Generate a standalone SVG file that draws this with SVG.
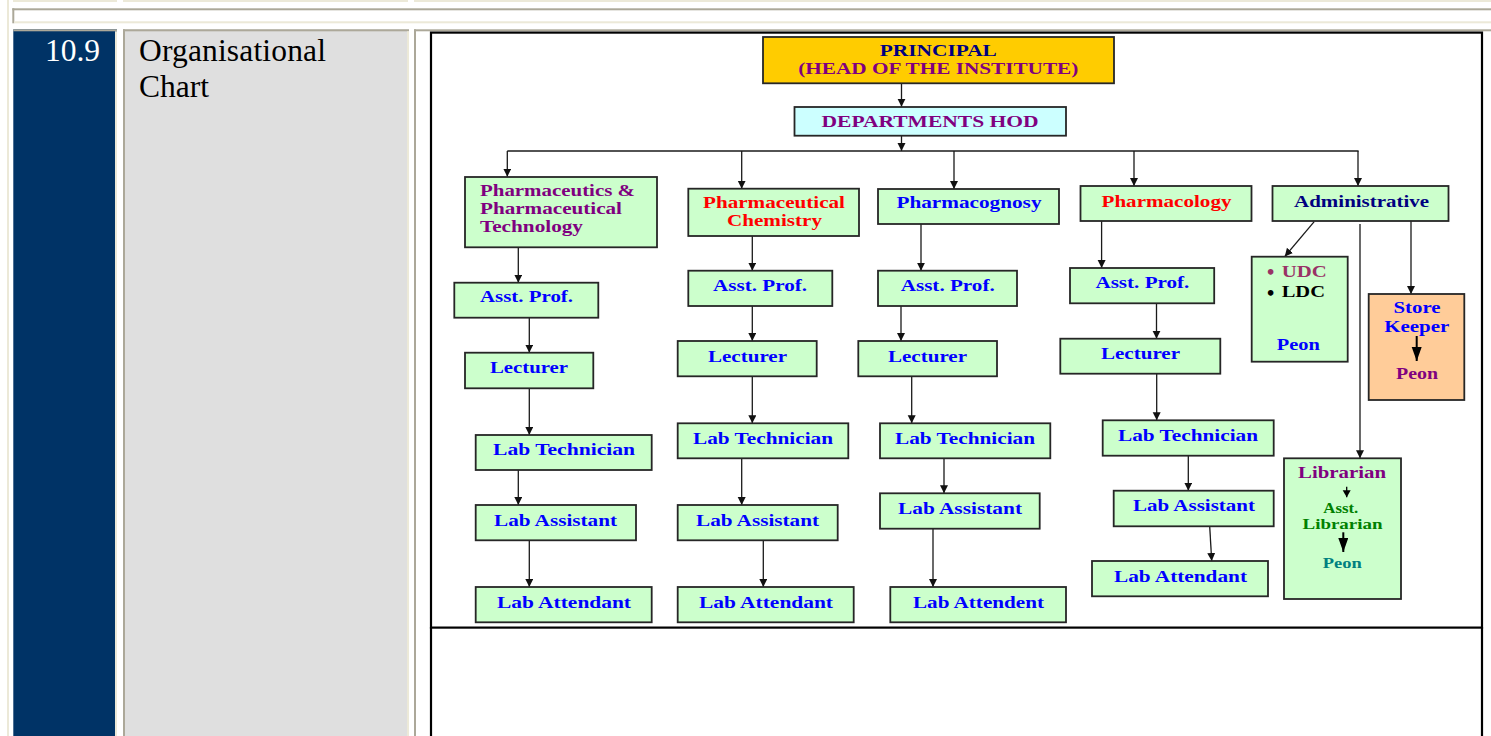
<svg xmlns="http://www.w3.org/2000/svg" width="1491" height="736" viewBox="0 0 1491 736">
<defs>
<marker id="ah" markerUnits="userSpaceOnUse" markerWidth="9" markerHeight="9" refX="8" refY="4" orient="auto"><path d="M0,0 L8,4 L0,8 z" fill="#111"/></marker>
<marker id="ahb" markerUnits="userSpaceOnUse" markerWidth="15" markerHeight="12" refX="14" refY="5" orient="auto"><path d="M0,0 L14,5 L0,10 z" fill="#000"/></marker>
<marker id="ahs" markerUnits="userSpaceOnUse" markerWidth="8" markerHeight="9" refX="7" refY="4" orient="auto"><path d="M0,0 L7,4 L0,8 z" fill="#000"/></marker>
</defs>
<style>
.bx{fill:#ccffcc;stroke:#262626;stroke-width:1.8}
.t{font-family:"Liberation Serif","Times New Roman",serif;font-weight:bold;font-size:17px;text-anchor:middle}
.l{text-anchor:start}
.bu{font-family:"DejaVu Sans",sans-serif;font-weight:bold;font-size:16px}
.b{fill:#0000ff}.p{fill:#800080}.r{fill:#ff0000}.n{fill:#000080}.g{fill:#008000}.tl{fill:#008080}.m{fill:#993366}.k{fill:#000}
.c{fill:none;stroke:#1a1a1a;stroke-width:1.3;marker-end:url(#ah)}
.hd{font-family:"Liberation Serif","Times New Roman",serif;font-size:31.5px}
</style>
<rect x="0" y="0" width="1491" height="736" fill="#fff"/>
<g id="page-frame">
<rect x="7" y="0" width="2" height="736" fill="#ece9d8"/>
<rect x="13" y="0" width="104" height="2" fill="#ece9d8"/>
<rect x="123" y="0" width="285" height="2" fill="#ece9d8"/>
<rect x="414" y="0" width="1077" height="2" fill="#ece9d8"/>
<rect x="12.3" y="8.3" width="1479" height="2" fill="#aca899"/>
<rect x="12.3" y="8.3" width="2" height="15" fill="#aca899"/>
<rect x="14.3" y="21.3" width="1477" height="2" fill="#ece9d8"/>
<rect x="13.3" y="29.3" width="103.7" height="706.7" fill="#003366"/>
<rect x="13.3" y="29.3" width="103.7" height="2" fill="#aca899"/>
<rect x="115" y="31.3" width="2" height="705" fill="#ece9d8"/>
<rect x="123" y="29.3" width="286" height="706.7" fill="#dfdfdf"/>
<rect x="123" y="29.3" width="286" height="2" fill="#aca899"/>
<rect x="123" y="29.3" width="2" height="706.7" fill="#aca899"/>
<rect x="407" y="31.3" width="2" height="705" fill="#ece9d8"/>
<rect x="414" y="29.3" width="1077" height="2" fill="#aca899"/>
<rect x="414" y="29.3" width="2" height="706.7" fill="#aca899"/>
<text x="100" y="61" class="hd" fill="#fff" text-anchor="end">10.9</text>
<text x="139" y="61" class="hd" fill="#000" textLength="187">Organisational</text>
<text x="139" y="97" class="hd" fill="#000">Chart</text>
<rect x="431" y="32.6" width="1051" height="595" fill="none" stroke="#000" stroke-width="2.2"/>
<line x1="431" y1="627" x2="431" y2="736" stroke="#000" stroke-width="2.2"/>
<line x1="1482" y1="627" x2="1482" y2="736" stroke="#000" stroke-width="2.2"/>
</g>
<g id="connectors">
<line class="c" x1="901.5" y1="83.3" x2="901.5" y2="106.7"/>
<line class="c" x1="901.5" y1="135.7" x2="901.5" y2="151"/>
<line x1="507.3" y1="151" x2="1358.6" y2="151" stroke="#1a1a1a" stroke-width="1.3"/>
<line class="c" x1="507.3" y1="151" x2="507.3" y2="176.7"/>
<line class="c" x1="741.7" y1="151" x2="741.7" y2="188.7"/>
<line class="c" x1="954" y1="151" x2="954" y2="189"/>
<line class="c" x1="1134" y1="151" x2="1134" y2="186"/>
<line class="c" x1="1358" y1="151" x2="1358" y2="186"/>
<line class="c" x1="518.3" y1="247.3" x2="518.3" y2="282.7"/>
<line class="c" x1="752.3" y1="236" x2="752.3" y2="270.7"/>
<line class="c" x1="921" y1="224" x2="921" y2="270.7"/>
<line class="c" x1="1101.6" y1="221" x2="1101.6" y2="268"/>
<line class="c" x1="529.3" y1="317.7" x2="529.3" y2="352.7"/>
<line class="c" x1="752.3" y1="306" x2="752.3" y2="341"/>
<line class="c" x1="901" y1="306" x2="901" y2="341"/>
<line class="c" x1="1156.5" y1="303.3" x2="1156.5" y2="338.7"/>
<line class="c" x1="529.3" y1="388.3" x2="529.3" y2="435"/>
<line class="c" x1="752.3" y1="376.3" x2="752.3" y2="423.3"/>
<line class="c" x1="911.7" y1="376.3" x2="911.7" y2="423.3"/>
<line class="c" x1="1156.7" y1="373.7" x2="1156.7" y2="420.3"/>
<line class="c" x1="518.3" y1="470" x2="518.3" y2="505"/>
<line class="c" x1="741.7" y1="458.3" x2="741.7" y2="505"/>
<line class="c" x1="944" y1="458.3" x2="944" y2="493.3"/>
<line class="c" x1="1188.3" y1="455.7" x2="1188.3" y2="490.7"/>
<line class="c" x1="529.3" y1="540.3" x2="529.3" y2="587"/>
<line class="c" x1="763.3" y1="540.3" x2="763.3" y2="587"/>
<line class="c" x1="933" y1="528.7" x2="933" y2="587"/>
<line class="c" x1="1209.7" y1="526.3" x2="1211.7" y2="561"/>
<line class="c" x1="1314.2" y1="221.7" x2="1284.8" y2="256.5"/>
<line class="c" x1="1411" y1="221" x2="1411" y2="294"/>
<line class="c" x1="1360" y1="224" x2="1360" y2="458.3"/>
</g>
<g id="principal">
<rect x="763" y="37" width="351" height="46.3" fill="#ffcc00" stroke="#262626" stroke-width="1.8"/>
<text class="t n" x="938.3" y="56" textLength="117" lengthAdjust="spacingAndGlyphs">PRINCIPAL</text>
<text class="t p" x="938.3" y="74.3" textLength="280" lengthAdjust="spacingAndGlyphs">(HEAD OF THE INSTITUTE)</text>
</g>
<g id="hod">
<rect x="794.5" y="107" width="271.5" height="28.7" fill="#ccffff" stroke="#262626" stroke-width="1.8"/>
<text class="t p" x="930" y="126.7" textLength="217" lengthAdjust="spacingAndGlyphs">DEPARTMENTS HOD</text>
</g>
<g id="pharmaceutics">
<rect class="bx" x="465" y="177" width="192" height="70.3"/>
<text class="t p l" x="480" y="195.7" textLength="155" lengthAdjust="spacingAndGlyphs">Pharmaceutics &amp;</text>
<text class="t p l" x="480" y="214" textLength="142" lengthAdjust="spacingAndGlyphs">Pharmaceutical</text>
<text class="t p l" x="480" y="232.3" textLength="103" lengthAdjust="spacingAndGlyphs">Technology</text>
</g>
<g id="pharm-chem">
<rect class="bx" x="688.3" y="188.7" width="170.7" height="47.3"/>
<text class="t r" x="774" y="208.3" textLength="142" lengthAdjust="spacingAndGlyphs">Pharmaceutical</text>
<text class="t r" x="774.5" y="226" textLength="95" lengthAdjust="spacingAndGlyphs">Chemistry</text>
</g>
<g id="pharmacognosy">
<rect class="bx" x="878" y="189" width="181" height="35"/>
<text class="t b" x="969" y="208.3" textLength="145" lengthAdjust="spacingAndGlyphs">Pharmacognosy</text>
</g>
<g id="pharmacology">
<rect class="bx" x="1080.5" y="186" width="171" height="35"/>
<text class="t r" x="1166.5" y="206.7" textLength="130" lengthAdjust="spacingAndGlyphs">Pharmacology</text>
</g>
<g id="administrative">
<rect class="bx" x="1272.5" y="186" width="176" height="35"/>
<text class="t n" x="1361.6" y="206.7" textLength="135" lengthAdjust="spacingAndGlyphs">Administrative</text>
</g>
<g id="c1-asst-prof"><rect class="bx" x="454.3" y="282.7" width="144" height="35"/><text class="t b" x="526.5" y="302.3" textLength="93" lengthAdjust="spacingAndGlyphs">Asst. Prof.</text></g>
<g id="c1-lecturer"><rect class="bx" x="465" y="352.7" width="128.3" height="35.6"/><text class="t b" x="529" y="373.3" textLength="78" lengthAdjust="spacingAndGlyphs">Lecturer</text></g>
<g id="c1-lab-technician"><rect class="bx" x="475.7" y="435" width="176" height="35"/><text class="t b" x="564" y="455.3" textLength="142" lengthAdjust="spacingAndGlyphs">Lab Technician</text></g>
<g id="c1-lab-assistant"><rect class="bx" x="475.7" y="505" width="160.3" height="35.3"/><text class="t b" x="555.5" y="526" textLength="123" lengthAdjust="spacingAndGlyphs">Lab Assistant</text></g>
<g id="c1-lab-attendant"><rect class="bx" x="475.7" y="587" width="176" height="35.3"/><text class="t b" x="564" y="607.7" textLength="134" lengthAdjust="spacingAndGlyphs">Lab Attendant</text></g>
<g id="c2-asst-prof"><rect class="bx" x="688.3" y="270.7" width="144" height="35.3"/><text class="t b" x="760" y="290.7" textLength="94" lengthAdjust="spacingAndGlyphs">Asst. Prof.</text></g>
<g id="c2-lecturer"><rect class="bx" x="677.7" y="341" width="139" height="35.3"/><text class="t b" x="747.5" y="361.7" textLength="79" lengthAdjust="spacingAndGlyphs">Lecturer</text></g>
<g id="c2-lab-technician"><rect class="bx" x="677.7" y="423.3" width="170.6" height="35"/><text class="t b" x="763" y="444" textLength="140" lengthAdjust="spacingAndGlyphs">Lab Technician</text></g>
<g id="c2-lab-assistant"><rect class="bx" x="677.7" y="505" width="160" height="35.3"/><text class="t b" x="757.5" y="526" textLength="123" lengthAdjust="spacingAndGlyphs">Lab Assistant</text></g>
<g id="c2-lab-attendant"><rect class="bx" x="677.7" y="587" width="176" height="35.3"/><text class="t b" x="766" y="607.7" textLength="134" lengthAdjust="spacingAndGlyphs">Lab Attendant</text></g>
<g id="c3-asst-prof"><rect class="bx" x="878" y="270.7" width="139" height="35.3"/><text class="t b" x="947.7" y="290.7" textLength="94" lengthAdjust="spacingAndGlyphs">Asst. Prof.</text></g>
<g id="c3-lecturer"><rect class="bx" x="858.3" y="341" width="138.7" height="35.3"/><text class="t b" x="927.5" y="361.7" textLength="79" lengthAdjust="spacingAndGlyphs">Lecturer</text></g>
<g id="c3-lab-technician"><rect class="bx" x="880" y="423.3" width="170.3" height="35"/><text class="t b" x="965" y="444" textLength="140" lengthAdjust="spacingAndGlyphs">Lab Technician</text></g>
<g id="c3-lab-assistant"><rect class="bx" x="880" y="493.3" width="159.7" height="35.4"/><text class="t b" x="960" y="514" textLength="124" lengthAdjust="spacingAndGlyphs">Lab Assistant</text></g>
<g id="c3-lab-attendent"><rect class="bx" x="890.3" y="587" width="175.7" height="35.3"/><text class="t b" x="978.5" y="607.7" textLength="131" lengthAdjust="spacingAndGlyphs">Lab Attendent</text></g>
<g id="c4-asst-prof"><rect class="bx" x="1070" y="268" width="144.2" height="35.3"/><text class="t b" x="1142.4" y="288.3" textLength="94" lengthAdjust="spacingAndGlyphs">Asst. Prof.</text></g>
<g id="c4-lecturer"><rect class="bx" x="1060.3" y="338.7" width="160" height="35"/><text class="t b" x="1140.5" y="359" textLength="79" lengthAdjust="spacingAndGlyphs">Lecturer</text></g>
<g id="c4-lab-technician"><rect class="bx" x="1102.7" y="420.3" width="171" height="35.4"/><text class="t b" x="1188" y="441" textLength="140" lengthAdjust="spacingAndGlyphs">Lab Technician</text></g>
<g id="c4-lab-assistant"><rect class="bx" x="1113.7" y="490.7" width="160" height="35.6"/><text class="t b" x="1194" y="511.3" textLength="122" lengthAdjust="spacingAndGlyphs">Lab Assistant</text></g>
<g id="c4-lab-attendant"><rect class="bx" x="1092" y="561" width="176" height="35.3"/><text class="t b" x="1180.5" y="581.7" textLength="133" lengthAdjust="spacingAndGlyphs">Lab Attendant</text></g>
<g id="clerks">
<rect class="bx" x="1251.7" y="256.7" width="96" height="105"/>
<text class="t m l bu" x="1265.5" y="278">•</text>
<text class="t m l" x="1281.7" y="277.3" textLength="45" lengthAdjust="spacingAndGlyphs">UDC</text>
<text class="t k l bu" x="1265.5" y="298.5">•</text>
<text class="t k l" x="1281.7" y="296.7" textLength="43.3" lengthAdjust="spacingAndGlyphs">LDC</text>
<text class="t b" x="1298.3" y="350" textLength="43" lengthAdjust="spacingAndGlyphs">Peon</text>
</g>
<g id="store-keeper">
<rect x="1368.7" y="294" width="95.6" height="106" fill="#ffcc99" stroke="#262626" stroke-width="1.8"/>
<text class="t b" x="1417" y="313.3" style="font-size:16px" textLength="47" lengthAdjust="spacingAndGlyphs">Store</text>
<text class="t b" x="1416.8" y="331.7" style="font-size:16px" textLength="65" lengthAdjust="spacingAndGlyphs">Keeper</text>
<line x1="1416.7" y1="336" x2="1416.7" y2="361" stroke="#000" stroke-width="2" marker-end="url(#ahb)"/>
<text class="t p" x="1417" y="379.3" style="font-size:16px" textLength="42" lengthAdjust="spacingAndGlyphs">Peon</text>
</g>
<g id="librarian">
<rect class="bx" x="1284" y="458.3" width="117" height="140.7"/>
<text class="t p" x="1342" y="477.7" textLength="88" lengthAdjust="spacingAndGlyphs">Librarian</text>
<line x1="1346.7" y1="486.7" x2="1346.7" y2="497.3" stroke="#000" stroke-width="1.3" marker-end="url(#ahs)"/>
<text class="t g" x="1340.8" y="512.7" style="font-size:15.5px" textLength="35" lengthAdjust="spacingAndGlyphs">Asst.</text>
<text class="t g" x="1342.5" y="528.7" style="font-size:15.5px" textLength="80" lengthAdjust="spacingAndGlyphs">Librarian</text>
<line x1="1343.3" y1="532.3" x2="1343.3" y2="552" stroke="#000" stroke-width="2" marker-end="url(#ahb)"/>
<text class="t tl" x="1342.3" y="568.3" style="font-size:15.5px" textLength="39" lengthAdjust="spacingAndGlyphs">Peon</text>
</g>
</svg>
